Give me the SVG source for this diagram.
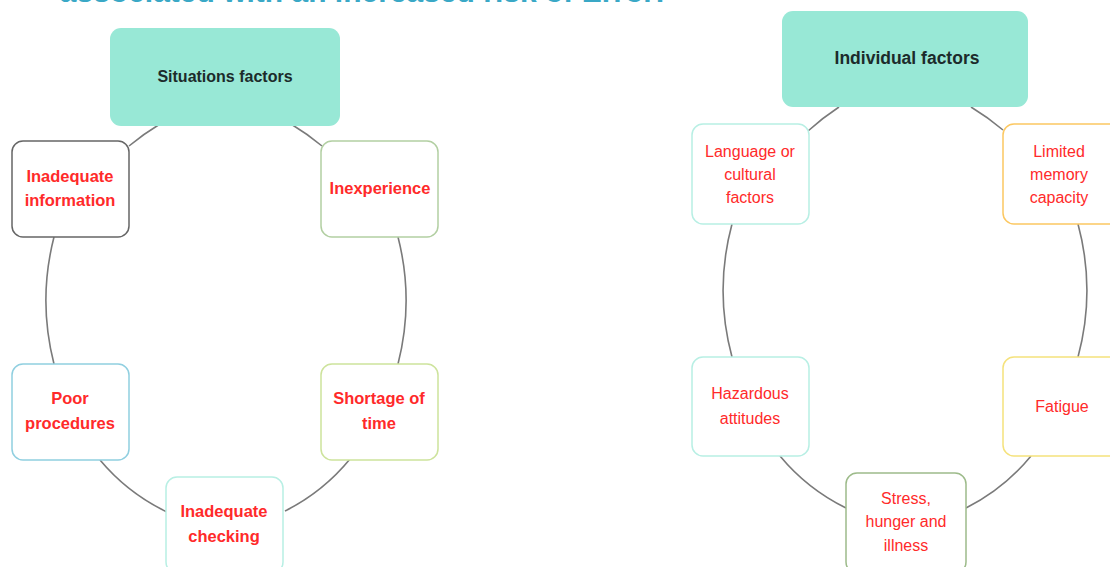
<svg xmlns="http://www.w3.org/2000/svg" width="1110" height="567" viewBox="0 0 1110 567">
<style>
.title{font-family:"Liberation Sans",Arial,sans-serif;font-weight:bold;font-size:30px;fill:#3aa8c6}
.hdr{fill:#98e8d6;stroke:none}
.hdrt{font-family:"Liberation Sans",Arial,sans-serif;font-weight:bold;fill:#1c2b2b;text-anchor:middle}
.box{fill:#ffffff;stroke-width:1.5}
.lt{font-family:"Liberation Sans",Arial,sans-serif;font-weight:bold;font-size:16.5px;fill:#ff2a2a;text-anchor:middle}
.rt{font-family:"Liberation Sans",Arial,sans-serif;font-size:16px;fill:#ff2a2a;text-anchor:middle}
.con{fill:none;stroke:#7a7a7a;stroke-width:1.6}
</style>
<rect width="1110" height="567" fill="#ffffff"/>
<text class="title" x="665" y="1.5" text-anchor="end">associated with an increased risk of Error:</text>
<g id="connectors">
<path class="con" d="M160,124 A256,256 0 0 0 129,146"/>
<path class="con" d="M291,124 A256,256 0 0 1 322,146"/>
<path class="con" d="M54,237 A256,256 0 0 0 54,364"/>
<path class="con" d="M398,237 A256,256 0 0 1 398,364"/>
<path class="con" d="M100,460 A200,200 0 0 0 167,512"/>
<path class="con" d="M285,511 A200,200 0 0 0 350,459"/>
<path class="con" d="M839,107 A256,256 0 0 0 808,131"/>
<path class="con" d="M971,107 A256,256 0 0 1 1003,130"/>
<path class="con" d="M732,224 A256,256 0 0 0 732,357"/>
<path class="con" d="M1078,224 A256,256 0 0 1 1078,357"/>
<path class="con" d="M780,456 A200,200 0 0 0 846,508"/>
<path class="con" d="M966,508 A200,200 0 0 0 1031,456"/>
</g>
<g id="situations-factors">
<rect class="hdr" x="110" y="28" width="230" height="98" rx="11"/>
<text class="hdrt" x="225" y="82" font-size="16">Situations factors</text>
</g>
<g id="inadequate-information">
<rect class="box" x="12" y="141" width="117" height="96" rx="11" stroke="#666666"/>
<text class="lt" x="70" y="182">Inadequate</text>
<text class="lt" x="70" y="206">information</text>
</g>
<g id="inexperience">
<rect class="box" x="321" y="141" width="117" height="96" rx="11" stroke="#b2cfa2"/>
<text class="lt" x="380" y="194">Inexperience</text>
</g>
<g id="poor-procedures">
<rect class="box" x="12" y="364" width="117" height="96" rx="11" stroke="#90cfe0"/>
<text class="lt" x="70" y="404">Poor</text>
<text class="lt" x="70" y="429">procedures</text>
</g>
<g id="shortage-of-time">
<rect class="box" x="321" y="364" width="117" height="96" rx="11" stroke="#cde39c"/>
<text class="lt" x="379" y="404">Shortage of</text>
<text class="lt" x="379" y="429">time</text>
</g>
<g id="inadequate-checking">
<rect class="box" x="166" y="477" width="117" height="96" rx="11" stroke="#b8efe4"/>
<text class="lt" x="224" y="517">Inadequate</text>
<text class="lt" x="224" y="542">checking</text>
</g>
<g id="individual-factors">
<rect class="hdr" x="782" y="11" width="246" height="96" rx="11"/>
<text class="hdrt" x="907" y="64" font-size="17.5">Individual factors</text>
</g>
<g id="language-or-cultural-factors">
<rect class="box" x="692" y="124" width="117" height="100" rx="11" stroke="#b8efe4"/>
<text class="rt" x="750" y="157">Language or</text>
<text class="rt" x="750" y="180">cultural</text>
<text class="rt" x="750" y="203">factors</text>
</g>
<g id="limited-memory-capacity">
<rect class="box" x="1003" y="124" width="117" height="100" rx="11" stroke="#fcc862"/>
<text class="rt" x="1059" y="157">Limited</text>
<text class="rt" x="1059" y="180">memory</text>
<text class="rt" x="1059" y="203">capacity</text>
</g>
<g id="hazardous-attitudes">
<rect class="box" x="692" y="357" width="117" height="99" rx="11" stroke="#b8efe4"/>
<text class="rt" x="750" y="399">Hazardous</text>
<text class="rt" x="750" y="424">attitudes</text>
</g>
<g id="fatigue">
<rect class="box" x="1003" y="357" width="117" height="99" rx="11" stroke="#f5e27c"/>
<text class="rt" x="1062" y="412">Fatigue</text>
</g>
<g id="stress-hunger-and-illness">
<rect class="box" x="846" y="473" width="120" height="100" rx="11" stroke="#9dbb8a"/>
<text class="rt" x="906" y="504">Stress,</text>
<text class="rt" x="906" y="527">hunger and</text>
<text class="rt" x="906" y="551">illness</text>
</g>
</svg>
